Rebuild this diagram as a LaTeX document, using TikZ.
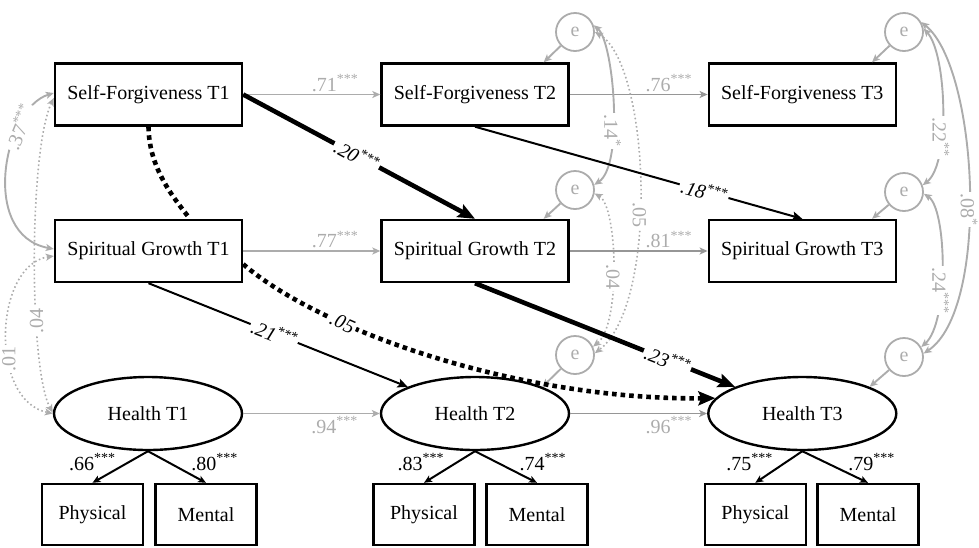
\documentclass[tikz,border=0pt]{standalone}
\usepackage{fontspec}
\setmainfont{Liberation Serif}
\usetikzlibrary{arrows.meta,shapes.geometric,calc}
\definecolor{lg}{RGB}{172,172,172}
\definecolor{mg}{RGB}{150,150,150}
\newcommand\myfs{\fontsize{20}{24}\selectfont}
\newcommand\sig[1]{\textsuperscript{#1}}
\tikzset{
  box/.style={draw, line width=2.4pt, minimum width=187pt, minimum height=62pt, inner sep=0pt, font=\myfs},
  sbox/.style={draw, line width=2.4pt, minimum width=101pt, minimum height=61pt, inner sep=0pt, font=\myfs},
  lat/.style={draw, ellipse, line width=2.4pt, minimum width=188pt, minimum height=73pt, inner sep=0pt, font=\myfs},
  err/.style={draw=lg, circle, line width=1.8pt, minimum size=38pt, inner sep=0pt, text=lg, font=\myfs},
  gtip/.tip={Stealth[length=8pt,width=7pt,inset=2pt]},
  gpath/.style={draw=lg, line width=1.9pt, -gtip},
  gcov/.style={draw=lg, line width=1.9pt, gtip-gtip},
  gdots/.style={draw=lg, line width=1.6pt, dash pattern=on 1.6pt off 2.6pt, gtip-gtip},
  bthin/.style={draw, line width=2pt, -{Stealth[length=10pt,width=9pt,inset=2pt]}},
  bthick/.style={draw, line width=4.6pt, -{Stealth[length=17pt,width=14pt,inset=3pt]}},
  bdots/.style={draw, line width=4.6pt, dash pattern=on 4.6pt off 4pt, -{Stealth[length=17pt,width=14pt,inset=3pt]}},
  load/.style={draw, line width=2pt, -{Stealth[length=8pt,width=7pt,inset=2pt]}},
  glab/.style={text=lg, font=\myfs, inner sep=2pt},
  blab/.style={font=\myfs\itshape, fill=white, inner sep=2pt, sloped},
  clab/.style={text=lg, font=\myfs, fill=white, inner sep=1.5pt},
  llab/.style={font=\myfs, inner sep=0pt}
}
\begin{document}
\begin{tikzpicture}[x=1pt,y=-1pt]
\useasboundingbox (0,0) rectangle (979,547);
% observed / latent nodes
\node[box] (sf1) at (148.5,94.5) {Self-Forgiveness T1};
\node[box] (sf2) at (475,94.5) {Self-Forgiveness T2};
\node[box] (sf3) at (802.3,94.5) {Self-Forgiveness T3};
\node[box] (sg1) at (148.5,251) {Spiritual Growth T1};
\node[box] (sg2) at (475,251) {Spiritual Growth T2};
\node[box] (sg3) at (802.3,251) {Spiritual Growth T3};
\node[lat] (h1) at (148,413.5) {Health T1};
\node[lat] (h2) at (475,413.5) {Health T2};
\node[lat] (h3) at (802.3,413.5) {Health T3};
\node[sbox] (p1) at (92.5,514.5) {Physical};
\node[sbox] (m1) at (206,514.5) {Mental};
\node[sbox] (p2) at (424,514.5) {Physical};
\node[sbox] (m2) at (537,514.5) {Mental};
\node[sbox] (p3) at (755.3,514.5) {Physical};
\node[sbox] (m3) at (868,514.5) {Mental};
% error terms
\node[err] (ef2) at (575,32) {e};
\node[err] (eg2) at (575,190) {e};
\node[err] (eh2) at (575,355) {e};
\node[err] (ef3) at (904,32) {e};
\node[err] (eg3) at (904,192) {e};
\node[err] (eh3) at (904,357) {e};
% autoregressive paths
\draw[gpath] (sf1.east) -- node[glab,pos=0.67,above]{.71\sig{***}} (sf2.west);
\draw[gpath,draw=mg] (sf2.east) -- node[glab,pos=0.72,above]{.76\sig{***}} (sf3.west);
\draw[gpath] (sg1.east) -- node[glab,pos=0.67,above]{.77\sig{***}} (sg2.west);
\draw[gpath,draw=mg] (sg2.east) -- node[glab,pos=0.72,above]{.81\sig{***}} (sg3.west);
\draw[gpath] (h1.east) -- node[glab,pos=0.67,below]{.94\sig{***}} (h2.west);
\draw[gpath,draw=mg] (h2.east) -- node[glab,pos=0.72,below]{.96\sig{***}} (h3.west);
% error arrows
\draw[gpath] (ef2) -- ($(sf2.north east)+(-26,0)$);
\draw[gpath] (eg2) -- ($(sg2.north east)+(-26,0)$);
\draw[gpath] (eh2) -- (h2.north east);
\draw[gpath] (ef3) -- ($(sf3.north east)+(-25,0)$);
\draw[gpath] (eg3) -- ($(sg3.north east)+(-25,0)$);
\draw[gpath] (eh3) -- (h3.north east);
% T1 covariances
\draw[gcov] ($(sf1.west)+(0,-1.5)$) .. controls +(-50,15) and +(-75,-14) .. ($(sg1.west)+(0,-2)$)
  node[clab,pos=0.28,rotate=68]{.37\sig{***}};
\draw[gdots] ($(sf1.west)+(0,3.5)$) .. controls +(-25,52) and +(-24,-42.5) .. ($(h1.west)+(0,-1)$)
  node[clab,pos=0.66,rotate=90]{.04};
\draw[gdots] ($(sg1.west)+(0,5)$) .. controls +(-60,9) and +(-64,-13) .. (h1.west)
  node[clab,pos=0.62,rotate=90]{.01};
% T2 residual covariances
\draw[gcov] (ef2.20) .. controls +(20,17) and +(30,-20) .. (eg2.15)
  node[clab,pos=0.63,rotate=-90]{.14\sig{*}};
\draw[gdots] (ef2.0) .. controls +(55,32) and +(65,-50) .. (eh2.5)
  node[clab,pos=0.57,rotate=-90]{.05};
\draw[gdots] (eg2.-10) .. controls +(23,13) and +(28,-22) .. (eh2.25)
  node[clab,pos=0.55,rotate=-90]{.04};
% T3 residual covariances
\draw[gcov] (ef3.10) .. controls +(23,25) and +(28,-22) .. (eg3.20)
  node[clab,pos=0.65,rotate=-90]{.22\sig{**}};
\draw[gcov] (ef3.30) .. controls +(57,46) and +(67,-45) .. (eh3.10)
  node[clab,pos=0.55,rotate=-90]{.08\sig{*}};
\draw[gcov] (eg3.-5) .. controls +(23,15) and +(28,-25) .. (eh3.30)
  node[clab,pos=0.62,rotate=-90]{.24\sig{***}};
% cross-lagged paths
\draw[bthick] (sf1.east) -- node[blab,pos=0.49]{.20\sig{***}} (sg2.north);
\draw[bthin] (sf2.south) -- node[blab,pos=0.7]{.18\sig{***}} (sg3.north);
\draw[bthin] (sg1.south) -- node[blab,pos=0.485]{.21\sig{***}} (h2.north west);
\draw[bthick] (sg2.south) -- node[blab,pos=0.74]{.23\sig{***}} (h3.north west);
\draw[bdots] ($(sg1.south east)+(0,-19)$) .. controls +(78,67) and +(-196,2) .. (h3.170)
  node[blab,pos=0.3]{.05};
\draw[bdots,-] (sf1.south) .. controls +(0.5,39) and +(-20,-25) .. ($(sg1.north)+(41.5,0)$);
% loadings
\draw[load] (h1.south) -- node[llab,pos=0.35,left=12pt]{.66\sig{***}} (p1.north);
\draw[load] (h1.south) -- node[llab,pos=0.35,right=22pt]{.80\sig{***}} (m1.north);
\draw[load] (h2.south) -- node[llab,pos=0.35,left=12pt]{.83\sig{***}} (p2.north);
\draw[load] (h2.south) -- node[llab,pos=0.35,right=22pt]{.74\sig{***}} (m2.north);
\draw[load] (h3.south) -- node[llab,pos=0.35,left=12pt]{.75\sig{***}} (p3.north);
\draw[load] (h3.south) -- node[llab,pos=0.35,right=22pt]{.79\sig{***}} (m3.north);
\end{tikzpicture}
\end{document}
